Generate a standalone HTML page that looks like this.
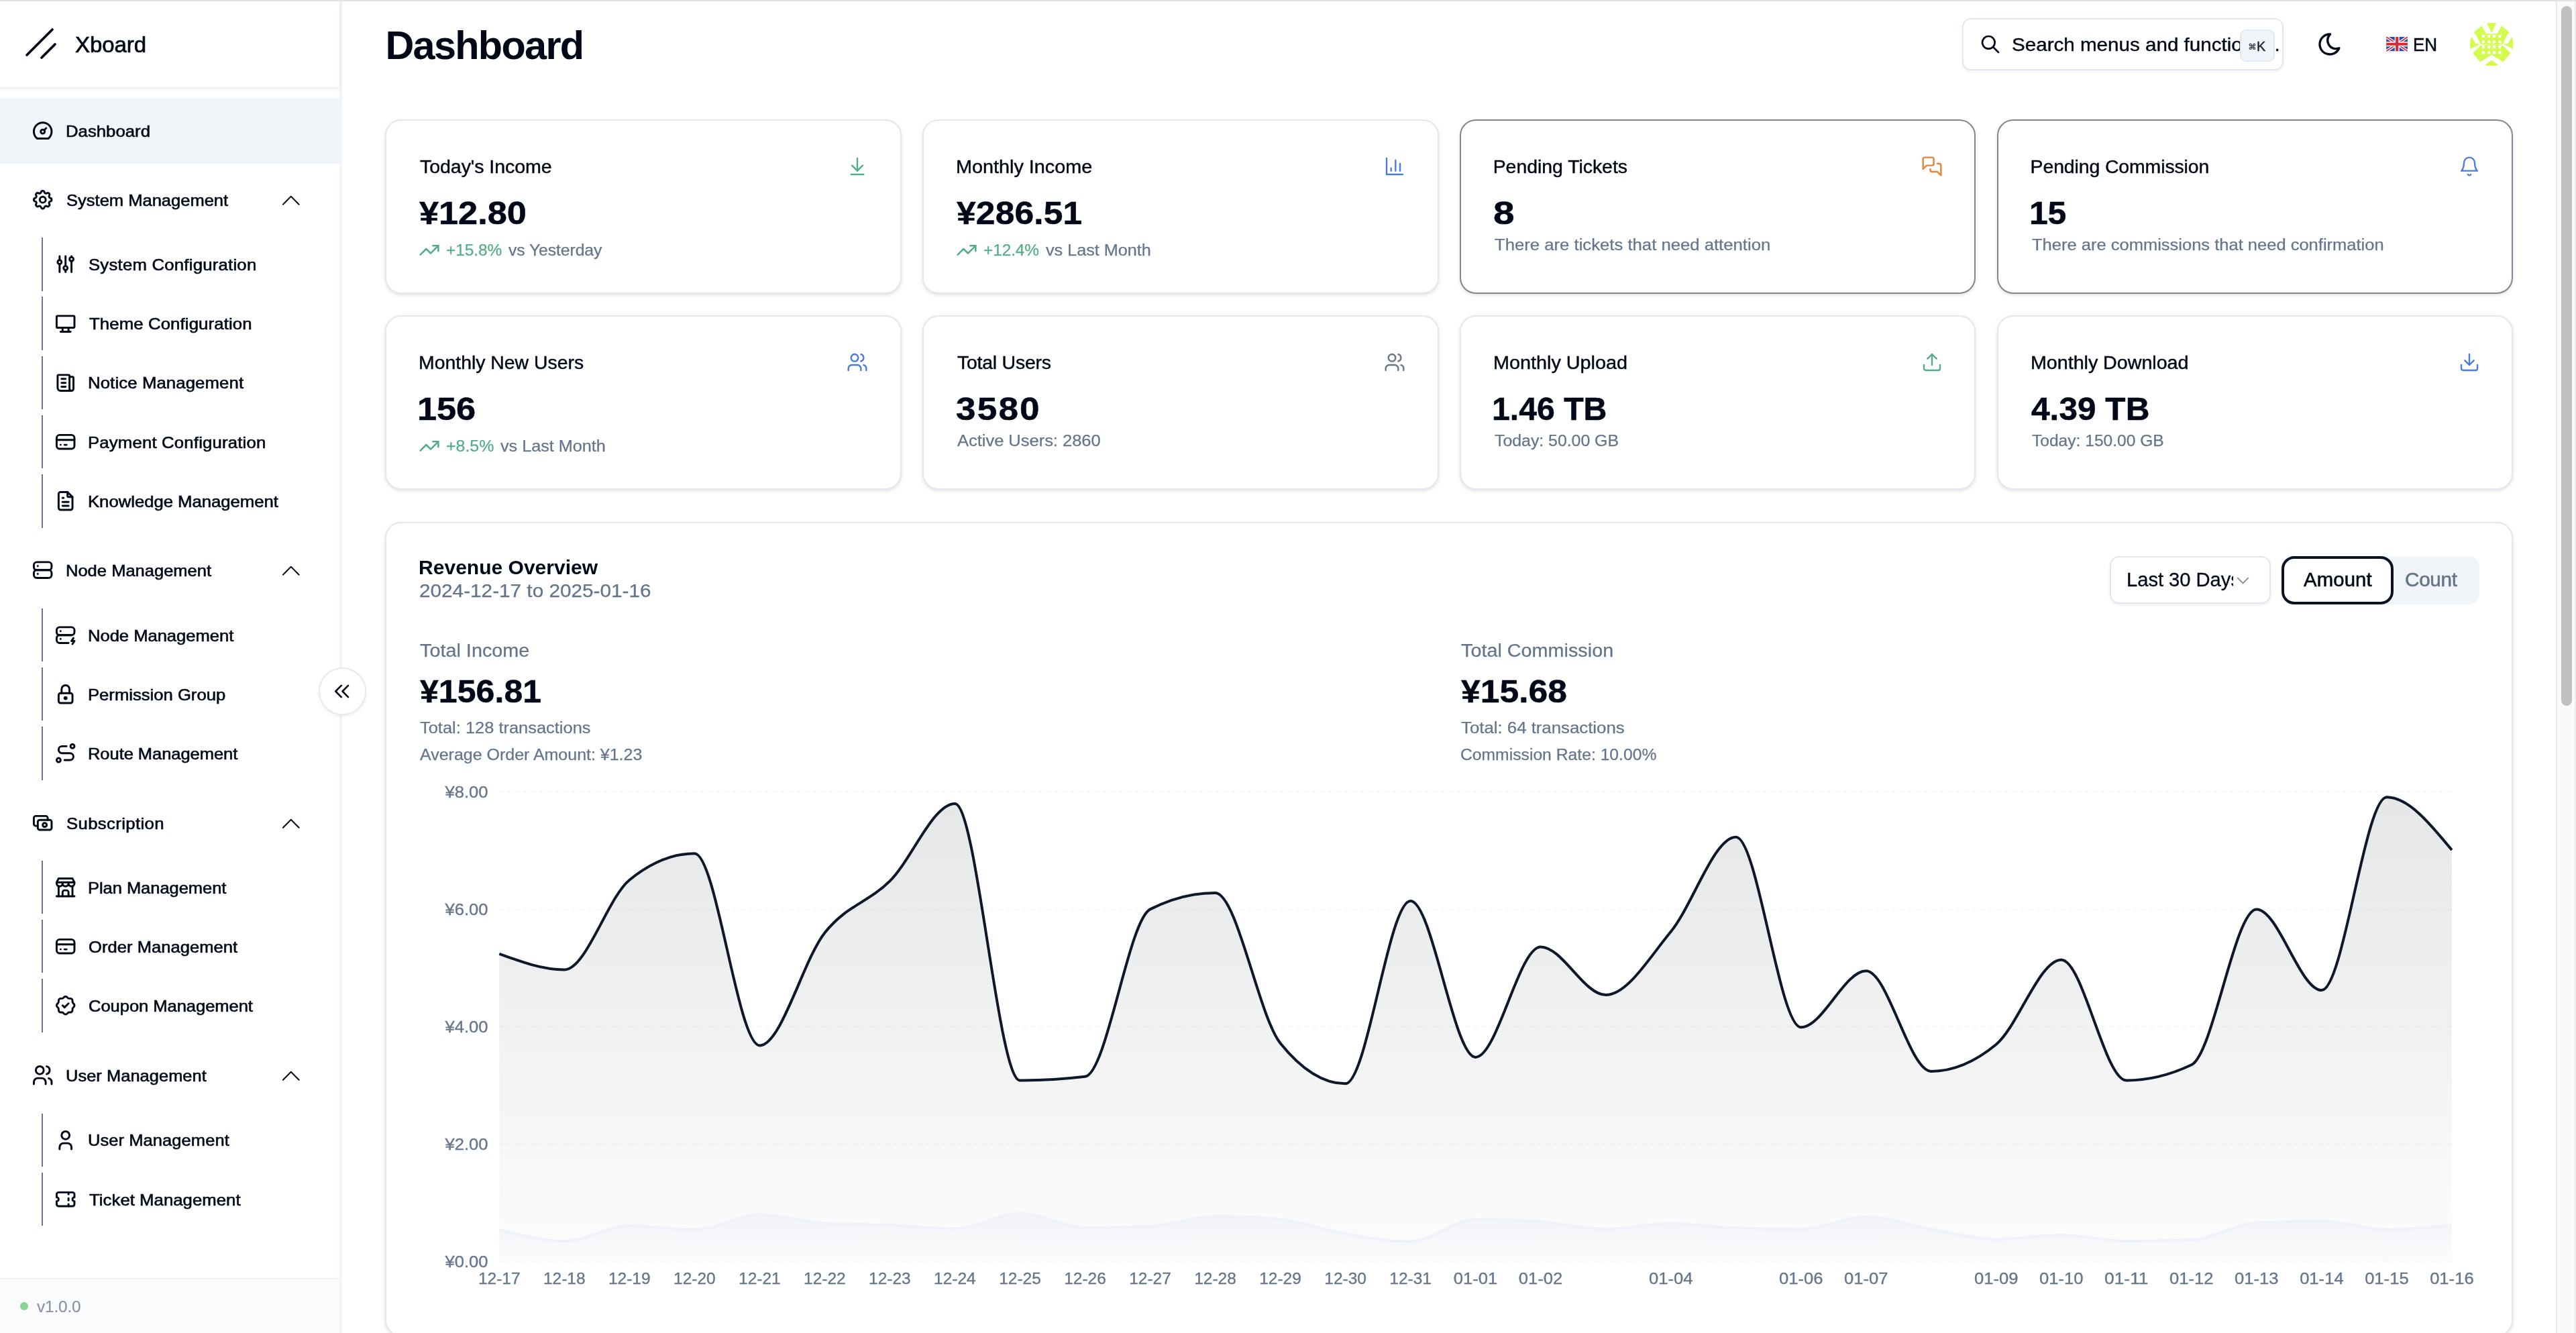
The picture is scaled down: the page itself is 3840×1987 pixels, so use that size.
<!DOCTYPE html><html lang="en"><head><meta charset="utf-8"><title>Xboard - Dashboard</title><style>*{box-sizing:border-box;margin:0;padding:0}
html,body{width:3840px;height:1987px;overflow:hidden;background:#fff}
body{will-change:transform;position:relative;font-family:"Liberation Sans",sans-serif;color:#020817;-webkit-font-smoothing:antialiased}
.t{position:absolute;white-space:nowrap;line-height:1;display:block}
.ic{display:block;overflow:visible}
a{color:inherit;text-decoration:none;display:block}
ul{list-style:none}
button{font:inherit;color:inherit;border:0;background:none}
.topline{position:absolute;left:0;top:0;width:3840px;height:2px;background:#e2e2e2;z-index:20}
/* sidebar */
.sidebar{position:absolute;left:0;top:0;width:510px;height:1987px;background:#fff;border-right:4px solid #f1f5f9}
.sb-head{position:absolute;left:0;top:0;width:506px;height:130px;background:#fff;box-shadow:0 2px 5px rgba(15,23,42,.09);z-index:2}
.sb-nav{position:absolute;left:0;top:0;width:506px;height:1905px}
.nav-item{position:absolute;left:0;width:506px;height:98px}
.nav-item.active{background:#f1f5f9}
.sub-item{position:absolute;left:62px;width:420px;height:79.5px;border-left:2.4px solid #6a7590}
.sb-foot{position:absolute;left:0;top:1905px;width:506px;height:82px;background:#fafbfd;border-top:2px solid #eff1f5}
.sb-foot .dot{position:absolute;left:29.8px;top:33.5px;width:12px;height:12px;border-radius:50%;background:#84d690}
.collapse{position:absolute;left:474.6px;top:994.6px;width:71px;height:71px;border-radius:50%;background:#fff;border:2px solid #e6eaf0;box-shadow:0 2px 5px rgba(15,23,42,.07);display:flex;align-items:center;justify-content:center;z-index:5}
/* main */
main{position:absolute;left:0;top:0;width:3811px;height:1987px}
.top{position:absolute;left:0;top:0;width:3811px;height:130px}
.search{position:absolute;left:2925px;top:26.6px;width:479px;height:78px;border:2px solid #e2e8f0;border-radius:13px;background:#fff;box-shadow:0 2px 4px rgba(15,23,42,.05);overflow:hidden}
.search kbd{position:absolute;left:411.6px;top:15.4px;width:52px;height:48px;border:2px solid #e2e8f0;border-radius:9px;background:#f1f5f9;font-family:"Liberation Sans","DejaVu Sans",sans-serif;font-size:20px;font-weight:400;-webkit-text-stroke:0.45px #1d2536;display:flex;align-items:center;justify-content:center;padding-top:3px;color:#1d2536}
.card{position:absolute;width:769.8px;height:260.2px;border:2px solid #e3e7ee;border-radius:24px;background:#fff;box-shadow:0 2px 6px rgba(15,23,42,.09),0 2px 4px -2px rgba(15,23,42,.09)}
.card.hl{border-color:#82868f}
.chartcard{width:3172.1px;height:1214px;overflow:hidden}
.select{position:absolute;width:240.4px;height:71px;border:2px solid #e3e6ec;border-radius:14px;background:#fff;box-shadow:0 2px 4px rgba(15,23,42,.07);overflow:hidden}
.select .tclip{position:absolute;left:0;top:0;width:182px;height:66px;overflow:hidden}
.tabs{position:absolute;width:294.6px;height:72px;border-radius:16px;background:#f1f5f9}
.tab{position:absolute;top:0;height:72px}
.tab.on{left:0;width:166.8px;border:4px solid #0b1222;border-radius:19px;background:#fff}
.tab:not(.on){left:166.8px;width:127px}
.ax text{font-family:"Liberation Sans",sans-serif}
/* scrollbar */
.vscroll{position:absolute;left:3810px;top:0;width:30px;height:1987px;background:#fafafa;border-left:2px solid #e8e8e8;border-right:2px solid #ededed}
.vscroll i{position:absolute;left:6px;top:8.5px;width:16px;height:1043.5px;border-radius:8px;background:#c1c1c1}
</style></head><body><aside class="sidebar"><div class="sb-head"><svg class="logo" width="64" height="64" viewBox="0 0 256 256" style="position:absolute;left:30px;top:34px"><line x1="208" y1="128" x2="128" y2="208" fill="none" stroke="#020817" stroke-linecap="round" stroke-linejoin="round" stroke-width="15"/><line x1="192" y1="40" x2="40" y2="192" fill="none" stroke="#020817" stroke-linecap="round" stroke-linejoin="round" stroke-width="15"/></svg><span class="t" style="left:112.0px;top:50.7px;font-size:32.5px;-webkit-text-stroke:0.7px #020817;letter-spacing:-0.07px;transform-origin:0 50%;transform:scaleX(1.0160);">Xboard</span></div><nav class="sb-nav"><a class="nav-item active" style="top:146.2px"><svg class="ic" width="35.4" height="35.4" viewBox="0 0 24 24" fill="none" stroke="currentColor" stroke-width="2" stroke-linecap="round" stroke-linejoin="round" style="position:absolute;left:46.3px;top:30.7px;"><path d="M12 13m-2 0a2 2 0 1 0 4 0a2 2 0 1 0 -4 0"/><path d="M13.45 11.55l2.05 -2.05"/><path d="M6.4 20a9 9 0 1 1 11.2 0z"/></svg><span class="t" style="left:98.1px;top:37.9px;font-size:24.0px;-webkit-text-stroke:0.6px #020817;letter-spacing:0.04px;transform-origin:0 50%;transform:scaleX(1.0700);">Dashboard</span></a><div class="nav-group"><a class="nav-item" style="top:249.0px"><svg class="ic" width="35.4" height="35.4" viewBox="0 0 24 24" fill="none" stroke="currentColor" stroke-width="2" stroke-linecap="round" stroke-linejoin="round" style="position:absolute;left:46.3px;top:30.7px;"><path d="M10.325 4.317c.426 -1.756 2.924 -1.756 3.35 0a1.724 1.724 0 0 0 2.573 1.066c1.543 -.94 3.31 .826 2.37 2.37a1.724 1.724 0 0 0 1.065 2.572c1.756 .426 1.756 2.924 0 3.35a1.724 1.724 0 0 0 -1.066 2.573c.94 1.543 -.826 3.31 -2.37 2.37a1.724 1.724 0 0 0 -2.572 1.065c-.426 1.756 -2.924 1.756 -3.35 0a1.724 1.724 0 0 0 -2.573 -1.066c-1.543 .94 -3.31 -.826 -2.37 -2.37a1.724 1.724 0 0 0 -1.065 -2.572c-1.756 -.426 -1.756 -2.924 0 -3.35a1.724 1.724 0 0 0 1.066 -2.573c-.94 -1.543 .826 -3.31 2.37 -2.37c1 .608 2.296 .07 2.572 -1.065z"/><path d="M9 12a3 3 0 1 0 6 0a3 3 0 0 0 -6 0"/></svg><span class="t" style="left:99.1px;top:37.9px;font-size:24.0px;-webkit-text-stroke:0.6px #020817;letter-spacing:0.01px;transform-origin:0 50%;transform:scaleX(1.0626);">System Management</span><svg class="ic" width="47.5" height="47.5" viewBox="0 0 24 24" fill="none" stroke="currentColor" stroke-width="1" stroke-linecap="round" stroke-linejoin="round" style="position:absolute;left:410.25px;top:25.55px;"><path d="M6 15l6 -6l6 6"/></svg></a><ul><li><a class="sub-item" style="top:354.2px"><svg class="ic" width="35.4" height="35.4" viewBox="0 0 24 24" fill="none" stroke="currentColor" stroke-width="2" stroke-linecap="round" stroke-linejoin="round" style="position:absolute;left:16.199999999999996px;top:22.200000000000003px;"><path d="M4 10a2 2 0 1 0 4 0a2 2 0 0 0 -4 0"/><path d="M6 4v4"/><path d="M6 12v8"/><path d="M10 16a2 2 0 1 0 4 0a2 2 0 0 0 -4 0"/><path d="M12 4v10"/><path d="M12 18v2"/><path d="M16 7a2 2 0 1 0 4 0a2 2 0 0 0 -4 0"/><path d="M18 4v1"/><path d="M18 9v11"/></svg><span class="t" style="left:68.1px;top:28.9px;font-size:24.0px;-webkit-text-stroke:0.6px #020817;letter-spacing:0.23px;transform-origin:0 50%;transform:scaleX(1.0700);">System Configuration</span></a></li><li><a class="sub-item" style="top:442.4px"><svg class="ic" width="35.4" height="35.4" viewBox="0 0 24 24" fill="none" stroke="currentColor" stroke-width="2" stroke-linecap="round" stroke-linejoin="round" style="position:absolute;left:16.199999999999996px;top:22.200000000000003px;"><path d="M3 5a1 1 0 0 1 1 -1h16a1 1 0 0 1 1 1v10a1 1 0 0 1 -1 1h-16a1 1 0 0 1 -1 -1v-10z"/><path d="M7 20h10"/><path d="M9 16v4"/><path d="M15 16v4"/></svg><span class="t" style="left:69.1px;top:28.9px;font-size:24.0px;-webkit-text-stroke:0.6px #020817;letter-spacing:0.14px;transform-origin:0 50%;transform:scaleX(1.0700);">Theme Configuration</span></a></li><li><a class="sub-item" style="top:530.6px"><svg class="ic" width="35.4" height="35.4" viewBox="0 0 24 24" fill="none" stroke="currentColor" stroke-width="2" stroke-linecap="round" stroke-linejoin="round" style="position:absolute;left:16.199999999999996px;top:22.200000000000003px;"><path d="M16 6h3a1 1 0 0 1 1 1v11a2 2 0 0 1 -4 0v-13a1 1 0 0 0 -1 -1h-10a1 1 0 0 0 -1 1v12a3 3 0 0 0 3 3h11"/><path d="M8 8l4 0"/><path d="M8 12l4 0"/><path d="M8 16l4 0"/></svg><span class="t" style="left:67.1px;top:28.9px;font-size:24.0px;-webkit-text-stroke:0.6px #020817;letter-spacing:0.13px;transform-origin:0 50%;transform:scaleX(1.0700);">Notice Management</span></a></li><li><a class="sub-item" style="top:618.8px"><svg class="ic" width="35.4" height="35.4" viewBox="0 0 24 24" fill="none" stroke="currentColor" stroke-width="2" stroke-linecap="round" stroke-linejoin="round" style="position:absolute;left:16.199999999999996px;top:22.200000000000003px;"><path d="M3 5m0 3a3 3 0 0 1 3 -3h12a3 3 0 0 1 3 3v8a3 3 0 0 1 -3 3h-12a3 3 0 0 1 -3 -3z"/><path d="M3 10l18 0"/><path d="M7 15l.01 0"/><path d="M11 15l2 0"/></svg><span class="t" style="left:67.1px;top:28.9px;font-size:24.0px;-webkit-text-stroke:0.6px #020817;letter-spacing:0.19px;transform-origin:0 50%;transform:scaleX(1.0700);">Payment Configuration</span></a></li><li><a class="sub-item" style="top:707.0px"><svg class="ic" width="35.4" height="35.4" viewBox="0 0 24 24" fill="none" stroke="currentColor" stroke-width="2" stroke-linecap="round" stroke-linejoin="round" style="position:absolute;left:16.199999999999996px;top:22.200000000000003px;"><path d="M14 3v4a1 1 0 0 0 1 1h4"/><path d="M17 21h-10a2 2 0 0 1 -2 -2v-14a2 2 0 0 1 2 -2h7l5 5v11a2 2 0 0 1 -2 2z"/><path d="M9 9l1 0"/><path d="M9 13l6 0"/><path d="M9 17l6 0"/></svg><span class="t" style="left:67.1px;top:28.9px;font-size:24.0px;-webkit-text-stroke:0.6px #020817;letter-spacing:-0.01px;transform-origin:0 50%;transform:scaleX(1.0700);">Knowledge Management</span></a></li></ul></div><div class="nav-group"><a class="nav-item" style="top:801.4px"><svg class="ic" width="35.4" height="35.4" viewBox="0 0 24 24" fill="none" stroke="currentColor" stroke-width="2" stroke-linecap="round" stroke-linejoin="round" style="position:absolute;left:46.3px;top:30.7px;"><path d="M3 4m0 3a3 3 0 0 1 3 -3h12a3 3 0 0 1 3 3v2a3 3 0 0 1 -3 3h-12a3 3 0 0 1 -3 -3z"/><path d="M3 12m0 3a3 3 0 0 1 3 -3h12a3 3 0 0 1 3 3v2a3 3 0 0 1 -3 3h-12a3 3 0 0 1 -3 -3z"/><path d="M7 8l0 .01"/><path d="M7 16l0 .01"/></svg><span class="t" style="left:98.1px;top:37.9px;font-size:24.0px;-webkit-text-stroke:0.6px #020817;letter-spacing:0.03px;transform-origin:0 50%;transform:scaleX(1.0613);">Node Management</span><svg class="ic" width="47.5" height="47.5" viewBox="0 0 24 24" fill="none" stroke="currentColor" stroke-width="1" stroke-linecap="round" stroke-linejoin="round" style="position:absolute;left:410.25px;top:25.55px;"><path d="M6 15l6 -6l6 6"/></svg></a><ul><li><a class="sub-item" style="top:906.7px"><svg class="ic" width="35.4" height="35.4" viewBox="0 0 24 24" fill="none" stroke="currentColor" stroke-width="2" stroke-linecap="round" stroke-linejoin="round" style="position:absolute;left:16.199999999999996px;top:22.200000000000003px;"><path d="M3 4m0 3a3 3 0 0 1 3 -3h12a3 3 0 0 1 3 3v2a3 3 0 0 1 -3 3h-12a3 3 0 0 1 -3 -3z"/><path d="M15 20h-9a3 3 0 0 1 -3 -3v-2a3 3 0 0 1 3 -3h12"/><path d="M7 8v.01"/><path d="M7 16v.01"/><path d="M20 15l-2 3h3l-2 3"/></svg><span class="t" style="left:67.1px;top:28.9px;font-size:24.0px;-webkit-text-stroke:0.6px #020817;transform-origin:0 50%;transform:scaleX(1.0643);">Node Management</span></a></li><li><a class="sub-item" style="top:994.9px"><svg class="ic" width="35.4" height="35.4" viewBox="0 0 24 24" fill="none" stroke="currentColor" stroke-width="2" stroke-linecap="round" stroke-linejoin="round" style="position:absolute;left:16.199999999999996px;top:22.200000000000003px;"><path d="M5 13a2 2 0 0 1 2 -2h10a2 2 0 0 1 2 2v6a2 2 0 0 1 -2 2h-10a2 2 0 0 1 -2 -2v-6z"/><path d="M11 16a1 1 0 1 0 2 0a1 1 0 0 0 -2 0"/><path d="M8 11v-4a4 4 0 1 1 8 0v4"/></svg><span class="t" style="left:67.1px;top:28.9px;font-size:24.0px;-webkit-text-stroke:0.6px #020817;transform-origin:0 50%;transform:scaleX(1.0682);">Permission Group</span></a></li><li><a class="sub-item" style="top:1083.1px"><svg class="ic" width="35.4" height="35.4" viewBox="0 0 24 24" fill="none" stroke="currentColor" stroke-width="2" stroke-linecap="round" stroke-linejoin="round" style="position:absolute;left:16.199999999999996px;top:22.200000000000003px;"><path d="M3 19a2 2 0 1 0 4 0a2 2 0 0 0 -4 0"/><path d="M19 7a2 2 0 1 0 0 -4a2 2 0 0 0 0 4z"/><path d="M11 19h5.5a3.5 3.5 0 0 0 0 -7h-8a3.5 3.5 0 0 1 0 -7h4.5"/></svg><span class="t" style="left:67.1px;top:28.9px;font-size:24.0px;-webkit-text-stroke:0.6px #020817;letter-spacing:-0.02px;transform-origin:0 50%;transform:scaleX(1.0605);">Route Management</span></a></li></ul></div><div class="nav-group"><a class="nav-item" style="top:1178.0px"><svg class="ic" width="35.4" height="35.4" viewBox="0 0 24 24" fill="none" stroke="currentColor" stroke-width="2" stroke-linecap="round" stroke-linejoin="round" style="position:absolute;left:46.3px;top:30.7px;"><path d="M7 9m0 2a2 2 0 0 1 2 -2h10a2 2 0 0 1 2 2v6a2 2 0 0 1 -2 2h-10a2 2 0 0 1 -2 -2z"/><path d="M14 14m-2 0a2 2 0 1 0 4 0a2 2 0 1 0 -4 0"/><path d="M17 9v-2a2 2 0 0 0 -2 -2h-10a2 2 0 0 0 -2 2v6a2 2 0 0 0 2 2h2"/></svg><span class="t" style="left:99.1px;top:37.9px;font-size:24.0px;-webkit-text-stroke:0.6px #020817;letter-spacing:0.36px;transform-origin:0 50%;transform:scaleX(1.0700);">Subscription</span><svg class="ic" width="47.5" height="47.5" viewBox="0 0 24 24" fill="none" stroke="currentColor" stroke-width="1" stroke-linecap="round" stroke-linejoin="round" style="position:absolute;left:410.25px;top:25.55px;"><path d="M6 15l6 -6l6 6"/></svg></a><ul><li><a class="sub-item" style="top:1282.7px"><svg class="ic" width="35.4" height="35.4" viewBox="0 0 24 24" fill="none" stroke="currentColor" stroke-width="2" stroke-linecap="round" stroke-linejoin="round" style="position:absolute;left:16.199999999999996px;top:22.200000000000003px;"><path d="M3 21l18 0"/><path d="M3 7v1a3 3 0 0 0 6 0v-1m0 1a3 3 0 0 0 6 0v-1m0 1a3 3 0 0 0 6 0v-1h-18l2 -4h14l2 4"/><path d="M5 21l0 -10.15"/><path d="M19 21l0 -10.15"/><path d="M9 21v-4a2 2 0 0 1 2 -2h2a2 2 0 0 1 2 2v4"/></svg><span class="t" style="left:67.1px;top:28.9px;font-size:24.0px;-webkit-text-stroke:0.6px #020817;letter-spacing:-0.02px;transform-origin:0 50%;transform:scaleX(1.0609);">Plan Management</span></a></li><li><a class="sub-item" style="top:1370.9px"><svg class="ic" width="35.4" height="35.4" viewBox="0 0 24 24" fill="none" stroke="currentColor" stroke-width="2" stroke-linecap="round" stroke-linejoin="round" style="position:absolute;left:16.199999999999996px;top:22.200000000000003px;"><path d="M3 5m0 3a3 3 0 0 1 3 -3h12a3 3 0 0 1 3 3v8a3 3 0 0 1 -3 3h-12a3 3 0 0 1 -3 -3z"/><path d="M3 10l18 0"/><path d="M7 15l.01 0"/><path d="M11 15l2 0"/></svg><span class="t" style="left:68.1px;top:28.9px;font-size:24.0px;-webkit-text-stroke:0.6px #020817;letter-spacing:0.06px;transform-origin:0 50%;transform:scaleX(1.0623);">Order Management</span></a></li><li><a class="sub-item" style="top:1459.1px"><svg class="ic" width="35.4" height="35.4" viewBox="0 0 24 24" fill="none" stroke="currentColor" stroke-width="2" stroke-linecap="round" stroke-linejoin="round" style="position:absolute;left:16.199999999999996px;top:22.200000000000003px;"><path d="M5 7.2a2.2 2.2 0 0 1 2.2 -2.2h1a2.2 2.2 0 0 0 1.55 -.64l.7 -.7a2.2 2.2 0 0 1 3.12 0l.7 .7c.412 .41 .97 .64 1.55 .64h1a2.2 2.2 0 0 1 2.2 2.2v1c0 .58 .23 1.138 .64 1.55l.7 .7a2.2 2.2 0 0 1 0 3.12l-.7 .7a2.2 2.2 0 0 0 -.64 1.55v1a2.2 2.2 0 0 1 -2.2 2.2h-1a2.2 2.2 0 0 0 -1.55 .64l-.7 .7a2.2 2.2 0 0 1 -3.12 0l-.7 -.7a2.2 2.2 0 0 0 -1.55 -.64h-1a2.2 2.2 0 0 1 -2.2 -2.2v-1a2.2 2.2 0 0 0 -.64 -1.55l-.7 -.7a2.2 2.2 0 0 1 0 -3.12l.7 -.7a2.2 2.2 0 0 0 .64 -1.55v-1"/><path d="M9 12l2 2l4 -4"/></svg><span class="t" style="left:68.1px;top:28.9px;font-size:24.0px;-webkit-text-stroke:0.6px #020817;letter-spacing:-0.03px;transform-origin:0 50%;transform:scaleX(1.0633);">Coupon Management</span></a></li></ul></div><div class="nav-group"><a class="nav-item" style="top:1554.2px"><svg class="ic" width="35.4" height="35.4" viewBox="0 0 24 24" fill="none" stroke="currentColor" stroke-width="2" stroke-linecap="round" stroke-linejoin="round" style="position:absolute;left:46.3px;top:30.7px;"><path d="M9 7m-4 0a4 4 0 1 0 8 0a4 4 0 1 0 -8 0"/><path d="M3 21v-2a4 4 0 0 1 4 -4h4a4 4 0 0 1 4 4v2"/><path d="M16 3.13a4 4 0 0 1 0 7.75"/><path d="M21 21v-2a4 4 0 0 0 -3 -3.85"/></svg><span class="t" style="left:98.1px;top:37.9px;font-size:24.0px;-webkit-text-stroke:0.6px #020817;letter-spacing:0.08px;transform-origin:0 50%;transform:scaleX(1.0566);">User Management</span><svg class="ic" width="47.5" height="47.5" viewBox="0 0 24 24" fill="none" stroke="currentColor" stroke-width="1" stroke-linecap="round" stroke-linejoin="round" style="position:absolute;left:410.25px;top:25.55px;"><path d="M6 15l6 -6l6 6"/></svg></a><ul><li><a class="sub-item" style="top:1659.5px"><svg class="ic" width="35.4" height="35.4" viewBox="0 0 24 24" fill="none" stroke="currentColor" stroke-width="2" stroke-linecap="round" stroke-linejoin="round" style="position:absolute;left:16.199999999999996px;top:22.200000000000003px;"><path d="M8 7a4 4 0 1 0 8 0a4 4 0 0 0 -8 0"/><path d="M6 21v-2a4 4 0 0 1 4 -4h4a4 4 0 0 1 4 4v2"/></svg><span class="t" style="left:67.1px;top:28.9px;font-size:24.0px;-webkit-text-stroke:0.6px #020817;letter-spacing:0.11px;transform-origin:0 50%;transform:scaleX(1.0591);">User Management</span></a></li><li><a class="sub-item" style="top:1747.7px"><svg class="ic" width="35.4" height="35.4" viewBox="0 0 24 24" fill="none" stroke="currentColor" stroke-width="2" stroke-linecap="round" stroke-linejoin="round" style="position:absolute;left:16.199999999999996px;top:22.200000000000003px;"><path d="M15 5l0 2"/><path d="M15 11l0 2"/><path d="M15 17l0 2"/><path d="M5 5h14a2 2 0 0 1 2 2v3a2 2 0 0 0 0 4v3a2 2 0 0 1 -2 2h-14a2 2 0 0 1 -2 -2v-3a2 2 0 0 0 0 -4v-3a2 2 0 0 1 2 -2"/></svg><span class="t" style="left:69.1px;top:28.9px;font-size:24.0px;-webkit-text-stroke:0.6px #020817;letter-spacing:0.06px;transform-origin:0 50%;transform:scaleX(1.0700);">Ticket Management</span></a></li></ul></div></nav><div class="sb-foot"><i class="dot"></i><span class="t" style="left:55.1px;top:28.7px;font-size:24.2px;color:#8a92a3;-webkit-text-stroke:0.2px #8a92a3;letter-spacing:-0.13px;transform-origin:0 50%;transform:scaleX(1.0054);">v1.0.0</span></div></aside><button class="collapse"><svg class="ic" width="41" height="41" viewBox="0 0 24 24" fill="none" stroke="currentColor" stroke-width="1.5" stroke-linecap="round" stroke-linejoin="round" style=""><path d="M11 7l-5 5l5 5"/><path d="M17 7l-5 5l5 5"/></svg></button><main><header class="top"><span class="t h1" style="left:574.4px;top:37.8px;font-size:59.4px;font-weight:700;letter-spacing:-1.69px;">Dashboard</span><div class="search"><svg class="ic" width="32" height="32" viewBox="0 0 24 24" fill="none" stroke="currentColor" stroke-width="2" stroke-linecap="round" stroke-linejoin="round" style="position:absolute;left:23.800000000000182px;top:21.0px;"><path d="M10 10m-7 0a7 7 0 1 0 14 0a7 7 0 1 0 -14 0"/><path d="M21 21l-6 -6"/></svg><span class="t" style="left:72.2px;top:23.1px;font-size:28.5px;-webkit-text-stroke:0.4px #020817;letter-spacing:-0.01px;transform-origin:0 50%;transform:scaleX(1.0389);">Search menus and functions...</span><kbd><span style="font-family:DejaVu Sans Mono,monospace;font-size:17.5px;position:relative;top:0.5px;margin-right:1.5px;-webkit-text-stroke:0.2px #1d2536">⌘</span>K</kbd></div><svg class="ic" width="40" height="40" viewBox="0 0 24 24" fill="none" stroke="currentColor" stroke-width="2" stroke-linecap="round" stroke-linejoin="round" style="position:absolute;left:3453px;top:45.8px;"><path d="M12 3c.132 0 .263 0 .393 0a7.5 7.5 0 0 0 7.92 12.446a9 9 0 1 1 -8.313 -12.454z"/></svg><svg class="flag" viewBox="0 0 60 40" width="32.4" height="21.4" style="position:absolute;left:3556.6px;top:55.4px"><clipPath id="fc"><rect width="60" height="40"/></clipPath><g clip-path="url(#fc)"><rect width="60" height="40" fill="#2c4da0"/><path d="M0 0L60 40M60 0L0 40" stroke="#fff" stroke-width="8"/><path d="M0 0L60 40M60 0L0 40" stroke="#d42a35" stroke-width="3.2"/><path d="M30 0V40M0 20H60" stroke="#fff" stroke-width="13"/><path d="M30 0V40M0 20H60" stroke="#d42a35" stroke-width="7.6"/></g></svg><span class="t" style="left:3597.2px;top:51.9px;font-size:28.5px;-webkit-text-stroke:0.5px #020817;letter-spacing:-0.05px;transform-origin:0 50%;transform:scaleX(0.9153);">EN</span><svg class="avatar" width="64.6" height="64.6" viewBox="0 0 64 64" style="position:absolute;left:3682px;top:33.6px"><clipPath id="av"><circle cx="32" cy="32" r="32"/></clipPath><g clip-path="url(#av)"><rect width="64" height="64" fill="#fff"/><g fill="#d3fb4e"><polygon points="24.4,0 39.4,0 32,14.8"/><polygon points="20,64 44,64 32,55"/><polygon points="0,21 2.6,21 8,30.6 14.6,31.4 1,38.6 0,39"/><polygon points="64,21 61.4,21 56,30.6 49.4,31.4 63,38.6 64,39"/><polygon points="5.2,14.7 17.2,4.5 23.7,16 32,16 32,32 16,32 8.2,16.4"/><polygon points="58.8,14.7 46.8,4.5 40.3,16 32,16 32,32 48,32 55.8,16.4"/><polygon points="4.2,44.8 15.6,33.4 32,32 32,47.6 16.4,56.6 15.8,58.8"/><polygon points="59.8,44.8 48.4,33.4 32,32 32,47.6 47.6,56.6 48.2,58.8"/></g><g fill="#fff"><polygon points="17.4,17.4 18.4,22.4 21.6,21.6 22.4,18.4"/><polygon points="30.6,17.4 29.6,22.4 26.4,21.6 25.6,18.4"/><polygon points="17.4,30.6 18.4,25.6 21.6,26.4 22.4,29.6"/><polygon points="30.6,30.6 29.6,25.6 26.4,26.4 25.6,29.6"/><polygon points="33.4,17.4 34.4,22.4 37.6,21.6 38.4,18.4"/><polygon points="46.6,17.4 45.6,22.4 42.4,21.6 41.6,18.4"/><polygon points="33.4,30.6 34.4,25.6 37.6,26.4 38.4,29.6"/><polygon points="46.6,30.6 45.6,25.6 42.4,26.4 41.6,29.6"/><polygon points="17.4,33.4 18.4,38.4 21.6,37.6 22.4,34.4"/><polygon points="30.6,33.4 29.6,38.4 26.4,37.6 25.6,34.4"/><polygon points="17.4,46.6 18.4,41.6 21.6,42.4 22.4,45.6"/><polygon points="30.6,46.6 29.6,41.6 26.4,42.4 25.6,45.6"/><polygon points="33.4,33.4 34.4,38.4 37.6,37.6 38.4,34.4"/><polygon points="46.6,33.4 45.6,38.4 42.4,37.6 41.6,34.4"/><polygon points="33.4,46.6 34.4,41.6 37.6,42.4 38.4,45.6"/><polygon points="46.6,46.6 45.6,41.6 42.4,42.4 41.6,45.6"/></g></g></svg></header><section class="card" style="left:573.9px;top:178.2px"><span class="t" style="left:50.1px;top:54.1px;font-size:28.4px;-webkit-text-stroke:0.45px #020817;letter-spacing:-0.07px;transform-origin:0 50%;transform:scaleX(1.0059);">Today's Income</span><svg class="ic" width="32" height="32" viewBox="0 0 24 24" fill="none" stroke="#52ae84" stroke-width="1.8" stroke-linecap="round" stroke-linejoin="round" style="position:absolute;left:686.2px;top:52.1px;"><path d="M12 17V3"/><path d="M6 11l6 6l6 -6"/><path d="M19 21H5"/></svg><span class="t" style="left:49.6px;top:114.1px;font-size:47.4px;font-weight:700;-webkit-text-stroke:0.5px #020817;letter-spacing:-0.03px;transform-origin:0 50%;transform:scaleX(1.1038);">¥12.80</span><svg class="ic" width="32" height="32" viewBox="0 0 24 24" fill="none" stroke="#52ae84" stroke-width="1.9" stroke-linecap="round" stroke-linejoin="round" style="position:absolute;left:48.3px;top:176.6px;"><path d="M22 7l-8.5 8.5l-5 -5l-6.5 6.5"/><path d="M16 7h6v6"/></svg><span class="t" style="left:89.1px;top:180.5px;font-size:24.2px;color:#52ae84;-webkit-text-stroke:0.25px #52ae84;letter-spacing:-0.05px;transform-origin:0 50%;transform:scaleX(1.0093);">+15.8%</span><span class="t" style="left:182.1px;top:180.5px;font-size:24.2px;color:#64748b;-webkit-text-stroke:0.25px #64748b;letter-spacing:-0.08px;transform-origin:0 50%;transform:scaleX(1.0230);">vs Yesterday</span></section><section class="card" style="left:1374.8px;top:178.2px"><span class="t" style="left:48.1px;top:54.1px;font-size:28.4px;-webkit-text-stroke:0.45px #020817;letter-spacing:-0.01px;transform-origin:0 50%;transform:scaleX(1.0145);">Monthly Income</span><svg class="ic" width="32" height="32" viewBox="0 0 24 24" fill="none" stroke="#4a7be0" stroke-width="1.8" stroke-linecap="round" stroke-linejoin="round" style="position:absolute;left:686.2px;top:52.1px;"><path d="M3 3v18h18"/><path d="M18 17V9"/><path d="M13 17V5"/><path d="M8 17v-3"/></svg><span class="t" style="left:49.6px;top:114.1px;font-size:47.4px;font-weight:700;-webkit-text-stroke:0.5px #020817;letter-spacing:0.15px;transform-origin:0 50%;transform:scaleX(1.0874);">¥286.51</span><svg class="ic" width="32" height="32" viewBox="0 0 24 24" fill="none" stroke="#52ae84" stroke-width="1.9" stroke-linecap="round" stroke-linejoin="round" style="position:absolute;left:48.3px;top:176.6px;"><path d="M22 7l-8.5 8.5l-5 -5l-6.5 6.5"/><path d="M16 7h6v6"/></svg><span class="t" style="left:89.1px;top:180.5px;font-size:24.2px;color:#52ae84;-webkit-text-stroke:0.25px #52ae84;letter-spacing:-0.07px;transform-origin:0 50%;transform:scaleX(1.0080);">+12.4%</span><span class="t" style="left:182.1px;top:180.5px;font-size:24.2px;color:#64748b;-webkit-text-stroke:0.25px #64748b;letter-spacing:-0.04px;transform-origin:0 50%;transform:scaleX(1.0440);">vs Last Month</span></section><section class="card hl" style="left:2175.6px;top:178.2px"><span class="t" style="left:48.1px;top:54.1px;font-size:28.4px;-webkit-text-stroke:0.45px #020817;letter-spacing:-0.01px;">Pending Tickets</span><svg class="ic" width="32" height="32" viewBox="0 0 24 24" fill="none" stroke="#e8833a" stroke-width="1.8" stroke-linecap="round" stroke-linejoin="round" style="position:absolute;left:686.2px;top:52.1px;"><path d="M14 9a2 2 0 0 1-2 2H6l-4 4V4c0-1.1.9-2 2-2h8a2 2 0 0 1 2 2z"/><path d="M18 9h2a2 2 0 0 1 2 2v11l-4-4h-6a2 2 0 0 1-2-2v-1"/></svg><span class="t" style="left:48.6px;top:114.1px;font-size:47.4px;font-weight:700;-webkit-text-stroke:0.5px #020817;transform-origin:0 50%;transform:scaleX(1.2000);">8</span><span class="t" style="left:50.1px;top:172.9px;font-size:24.2px;color:#64748b;-webkit-text-stroke:0.25px #64748b;letter-spacing:0.01px;transform-origin:0 50%;transform:scaleX(1.0610);">There are tickets that need attention</span></section><section class="card hl" style="left:2976.5px;top:178.2px"><span class="t" style="left:48.1px;top:54.1px;font-size:28.4px;-webkit-text-stroke:0.45px #020817;letter-spacing:-0.09px;">Pending Commission</span><svg class="ic" width="32" height="32" viewBox="0 0 24 24" fill="none" stroke="#4a7be0" stroke-width="1.8" stroke-linecap="round" stroke-linejoin="round" style="position:absolute;left:686.2px;top:52.1px;"><path d="M6 8a6 6 0 0 1 12 0c0 7 3 9 3 9H3s3-2 3-9"/><path d="M10.3 21a1.94 1.94 0 0 0 3.4 0"/></svg><span class="t" style="left:46.6px;top:114.1px;font-size:47.4px;font-weight:700;-webkit-text-stroke:0.5px #020817;letter-spacing:-0.33px;transform-origin:0 50%;transform:scaleX(1.0541);">15</span><span class="t" style="left:50.1px;top:172.9px;font-size:24.2px;color:#64748b;-webkit-text-stroke:0.25px #64748b;transform-origin:0 50%;transform:scaleX(1.0547);">There are commissions that need confirmation</span></section><section class="card" style="left:573.9px;top:470.2px"><span class="t" style="left:48.1px;top:54.1px;font-size:28.4px;-webkit-text-stroke:0.45px #020817;transform-origin:0 50%;transform:scaleX(1.0002);">Monthly New Users</span><svg class="ic" width="32" height="32" viewBox="0 0 24 24" fill="none" stroke="#4a7be0" stroke-width="1.8" stroke-linecap="round" stroke-linejoin="round" style="position:absolute;left:686.2px;top:52.1px;"><path d="M16 21v-2a4 4 0 0 0-4-4H6a4 4 0 0 0-4 4v2"/><path d="M9 7m-4 0a4 4 0 1 0 8 0a4 4 0 1 0 -8 0"/><path d="M22 21v-2a4 4 0 0 0-3-3.87"/><path d="M16 3.13a4 4 0 0 1 0 7.75"/></svg><span class="t" style="left:46.6px;top:114.1px;font-size:47.4px;font-weight:700;-webkit-text-stroke:0.5px #020817;letter-spacing:-0.11px;transform-origin:0 50%;transform:scaleX(1.1033);">156</span><svg class="ic" width="32" height="32" viewBox="0 0 24 24" fill="none" stroke="#52ae84" stroke-width="1.9" stroke-linecap="round" stroke-linejoin="round" style="position:absolute;left:48.3px;top:176.6px;"><path d="M22 7l-8.5 8.5l-5 -5l-6.5 6.5"/><path d="M16 7h6v6"/></svg><span class="t" style="left:89.1px;top:180.5px;font-size:24.2px;color:#52ae84;-webkit-text-stroke:0.25px #52ae84;letter-spacing:0.01px;transform-origin:0 50%;transform:scaleX(1.0301);">+8.5%</span><span class="t" style="left:170.4px;top:180.5px;font-size:24.2px;color:#64748b;-webkit-text-stroke:0.25px #64748b;letter-spacing:-0.04px;transform-origin:0 50%;transform:scaleX(1.0440);">vs Last Month</span></section><section class="card" style="left:1374.8px;top:470.2px"><span class="t" style="left:50.1px;top:54.1px;font-size:28.4px;-webkit-text-stroke:0.45px #020817;letter-spacing:-0.19px;">Total Users</span><svg class="ic" width="32" height="32" viewBox="0 0 24 24" fill="none" stroke="#6b7689" stroke-width="1.8" stroke-linecap="round" stroke-linejoin="round" style="position:absolute;left:686.2px;top:52.1px;"><path d="M16 21v-2a4 4 0 0 0-4-4H6a4 4 0 0 0-4 4v2"/><path d="M9 7m-4 0a4 4 0 1 0 8 0a4 4 0 1 0 -8 0"/><path d="M22 21v-2a4 4 0 0 0-3-3.87"/><path d="M16 3.13a4 4 0 0 1 0 7.75"/></svg><span class="t" style="left:48.6px;top:114.1px;font-size:47.4px;font-weight:700;-webkit-text-stroke:0.5px #020817;letter-spacing:1.95px;transform-origin:0 50%;transform:scaleX(1.1200);">3580</span><span class="t" style="left:50.1px;top:172.9px;font-size:24.2px;color:#64748b;-webkit-text-stroke:0.25px #64748b;letter-spacing:-0.04px;transform-origin:0 50%;transform:scaleX(1.0562);">Active Users: 2860</span></section><section class="card" style="left:2175.6px;top:470.2px"><span class="t" style="left:48.1px;top:54.1px;font-size:28.4px;-webkit-text-stroke:0.45px #020817;letter-spacing:-0.01px;transform-origin:0 50%;transform:scaleX(1.0147);">Monthly Upload</span><svg class="ic" width="32" height="32" viewBox="0 0 24 24" fill="none" stroke="#52ae84" stroke-width="1.8" stroke-linecap="round" stroke-linejoin="round" style="position:absolute;left:686.2px;top:52.1px;"><path d="M21 15v4a2 2 0 0 1-2 2H5a2 2 0 0 1-2-2v-4"/><path d="M17 8l-5 -5l-5 5"/><path d="M12 3v12"/></svg><span class="t" style="left:46.6px;top:114.1px;font-size:47.4px;font-weight:700;-webkit-text-stroke:0.5px #020817;letter-spacing:-0.02px;transform-origin:0 50%;transform:scaleX(1.0174);">1.46 TB</span><span class="t" style="left:50.1px;top:172.9px;font-size:24.2px;color:#64748b;-webkit-text-stroke:0.25px #64748b;letter-spacing:-0.04px;transform-origin:0 50%;transform:scaleX(1.0304);">Today: 50.00 GB</span></section><section class="card" style="left:2976.5px;top:470.2px"><span class="t" style="left:48.1px;top:54.1px;font-size:28.4px;-webkit-text-stroke:0.45px #020817;letter-spacing:-0.04px;transform-origin:0 50%;transform:scaleX(1.0107);">Monthly Download</span><svg class="ic" width="32" height="32" viewBox="0 0 24 24" fill="none" stroke="#4a7be0" stroke-width="1.8" stroke-linecap="round" stroke-linejoin="round" style="position:absolute;left:686.2px;top:52.1px;"><path d="M21 15v4a2 2 0 0 1-2 2H5a2 2 0 0 1-2-2v-4"/><path d="M7 10l5 5l5 -5"/><path d="M12 15V3"/></svg><span class="t" style="left:49.6px;top:114.1px;font-size:47.4px;font-weight:700;-webkit-text-stroke:0.5px #020817;letter-spacing:0.06px;transform-origin:0 50%;transform:scaleX(1.0440);">4.39 TB</span><span class="t" style="left:50.1px;top:172.9px;font-size:24.2px;color:#64748b;-webkit-text-stroke:0.25px #64748b;transform-origin:0 50%;transform:scaleX(1.0158);">Today: 150.00 GB</span></section><section class="card chartcard" style="left:573.9px;top:778.1px"><span class="t h3" style="left:48.2px;top:50.6px;font-size:30.0px;font-weight:700;letter-spacing:0.01px;">Revenue Overview</span><span class="t" style="left:49.2px;top:86.9px;font-size:27.8px;color:#64748b;-webkit-text-stroke:0.25px #64748b;letter-spacing:0.01px;transform-origin:0 50%;transform:scaleX(1.0690);">2024-12-17 to 2025-01-16</span><div class="select" style="left:2569.1px;top:48.9px"><span class="tclip"><span class="t" style="left:23.0px;top:18.9px;font-size:28.9px;-webkit-text-stroke:0.3px #020817;letter-spacing:-0.03px;transform-origin:0 50%;transform:scaleX(1.0099);">Last 30 Days</span></span><svg class="ic" width="31" height="31" viewBox="0 0 24 24" fill="none" stroke="#8a909c" stroke-width="1.6" stroke-linecap="round" stroke-linejoin="round" style="position:absolute;left:181.30000000000018px;top:19.0px;"><path d="M6 9l6 6l6 -6"/></svg></div><div class="tabs" style="left:2825.5px;top:48.5px"><button class="tab on"><span class="t" style="left:28.8px;top:17.4px;font-size:28.6px;-webkit-text-stroke:0.55px #020817;letter-spacing:0.11px;transform-origin:0 50%;transform:scaleX(1.0258);">Amount</span></button><button class="tab"><span class="t" style="left:17.0px;top:21.4px;font-size:28.6px;color:#64748b;-webkit-text-stroke:0.55px #64748b;letter-spacing:-0.28px;transform-origin:0 50%;transform:scaleX(1.0380);">Count</span></button></div><div class="stat"><span class="t" style="left:50.2px;top:174.6px;font-size:28.2px;color:#64748b;-webkit-text-stroke:0.25px #64748b;letter-spacing:0.02px;transform-origin:0 50%;transform:scaleX(1.0204);">Total Income</span><span class="t" style="left:50.2px;top:226.6px;font-size:47.4px;font-weight:700;-webkit-text-stroke:0.5px #020817;letter-spacing:0.06px;transform-origin:0 50%;transform:scaleX(1.0547);">¥156.81</span><span class="t" style="left:50.2px;top:292.9px;font-size:24.2px;color:#64748b;-webkit-text-stroke:0.25px #64748b;letter-spacing:0.03px;transform-origin:0 50%;transform:scaleX(1.0486);">Total: 128 transactions</span><span class="t" style="left:50.2px;top:333.1px;font-size:24.2px;color:#64748b;-webkit-text-stroke:0.25px #64748b;letter-spacing:-0.01px;transform-origin:0 50%;transform:scaleX(1.0333);">Average Order Amount: ¥1.23</span></div><div class="stat"><span class="t" style="left:1602.0px;top:174.6px;font-size:28.2px;color:#64748b;-webkit-text-stroke:0.25px #64748b;letter-spacing:0.02px;transform-origin:0 50%;transform:scaleX(1.0197);">Total Commission</span><span class="t" style="left:1602.0px;top:226.6px;font-size:47.4px;font-weight:700;-webkit-text-stroke:0.5px #020817;letter-spacing:0.08px;transform-origin:0 50%;transform:scaleX(1.0865);">¥15.68</span><span class="t" style="left:1602.0px;top:292.9px;font-size:24.2px;color:#64748b;-webkit-text-stroke:0.25px #64748b;letter-spacing:-0.02px;transform-origin:0 50%;transform:scaleX(1.0682);">Total: 64 transactions</span><span class="t" style="left:1601.0px;top:333.1px;font-size:24.2px;color:#64748b;-webkit-text-stroke:0.25px #64748b;letter-spacing:0.02px;transform-origin:0 50%;transform:scaleX(1.0195);">Commission Rate: 10.00%</span></div><svg class="plot" width="3168.1" height="1209.9" viewBox="575.9 780.1 3168.1 1209.9" style="position:absolute;left:0;top:0"><defs><linearGradient id="gi" x1="0" y1="0" x2="0" y2="1"><stop offset="0" stop-color="#0f172a" stop-opacity="0.105"/><stop offset="1" stop-color="#0f172a" stop-opacity="0.012"/></linearGradient><linearGradient id="gc" x1="0" y1="0" x2="0" y2="1"><stop offset="0" stop-color="#e9edf6" stop-opacity="0.5"/><stop offset="1" stop-color="#e9edf6" stop-opacity="0.05"/></linearGradient></defs><line x1="744.2" x2="3654.8" y1="1880.5" y2="1880.5" stroke="#f4f5f7" stroke-width="1.6" stroke-dasharray="6 6"/><line x1="744.2" x2="3654.8" y1="1705.5" y2="1705.5" stroke="#f4f5f7" stroke-width="1.6" stroke-dasharray="6 6"/><line x1="744.2" x2="3654.8" y1="1530.5" y2="1530.5" stroke="#f4f5f7" stroke-width="1.6" stroke-dasharray="6 6"/><line x1="744.2" x2="3654.8" y1="1355.5" y2="1355.5" stroke="#f4f5f7" stroke-width="1.6" stroke-dasharray="6 6"/><line x1="744.2" x2="3654.8" y1="1180.5" y2="1180.5" stroke="#f4f5f7" stroke-width="1.6" stroke-dasharray="6 6"/><path d="M744.2,1422.0C776.5,1433.8,808.9,1445.6,841.2,1445.6C873.6,1445.6,905.9,1338.0,938.2,1311.8C970.6,1285.5,1002.9,1272.4,1035.3,1272.4C1067.6,1272.4,1099.9,1558.5,1132.3,1558.5C1164.6,1558.5,1197.0,1431.3,1229.3,1390.5C1261.6,1349.7,1294.0,1345.6,1326.3,1313.5C1358.7,1281.4,1391.0,1198.0,1423.3,1198.0C1455.7,1198.0,1488.0,1610.6,1520.4,1610.6C1552.7,1610.6,1585.0,1608.7,1617.4,1604.9C1649.7,1601.1,1682.1,1371.8,1714.4,1355.5C1746.7,1339.2,1779.1,1331.0,1811.4,1331.0C1843.8,1331.0,1876.1,1514.8,1908.4,1555.0C1940.8,1595.2,1973.1,1615.4,2005.5,1615.4C2037.8,1615.4,2070.1,1343.2,2102.5,1343.2C2134.8,1343.2,2167.2,1576.0,2199.5,1576.0C2231.8,1576.0,2264.2,1411.5,2296.5,1411.5C2328.9,1411.5,2361.2,1483.2,2393.5,1483.2C2425.9,1483.2,2458.2,1428.0,2490.6,1388.8C2522.9,1349.5,2555.2,1247.9,2587.6,1247.9C2619.9,1247.9,2652.3,1531.4,2684.6,1531.4C2716.9,1531.4,2749.3,1447.4,2781.6,1447.4C2814.0,1447.4,2846.3,1597.0,2878.6,1597.0C2911.0,1597.0,2943.3,1583.6,2975.7,1556.8C3008.0,1529.9,3040.3,1430.8,3072.7,1430.8C3105.0,1430.8,3137.4,1610.6,3169.7,1610.6C3202.0,1610.6,3234.4,1602.8,3266.7,1587.4C3299.1,1571.9,3331.4,1355.5,3363.7,1355.5C3396.1,1355.5,3428.4,1476.2,3460.8,1476.2C3493.1,1476.2,3525.4,1188.4,3557.8,1188.4C3590.1,1188.4,3622.5,1227.8,3654.8,1267.1L3654.8,1880.5L744.2,1880.5Z" fill="url(#gi)"/><path d="M744.2,1422.0C776.5,1433.8,808.9,1445.6,841.2,1445.6C873.6,1445.6,905.9,1338.0,938.2,1311.8C970.6,1285.5,1002.9,1272.4,1035.3,1272.4C1067.6,1272.4,1099.9,1558.5,1132.3,1558.5C1164.6,1558.5,1197.0,1431.3,1229.3,1390.5C1261.6,1349.7,1294.0,1345.6,1326.3,1313.5C1358.7,1281.4,1391.0,1198.0,1423.3,1198.0C1455.7,1198.0,1488.0,1610.6,1520.4,1610.6C1552.7,1610.6,1585.0,1608.7,1617.4,1604.9C1649.7,1601.1,1682.1,1371.8,1714.4,1355.5C1746.7,1339.2,1779.1,1331.0,1811.4,1331.0C1843.8,1331.0,1876.1,1514.8,1908.4,1555.0C1940.8,1595.2,1973.1,1615.4,2005.5,1615.4C2037.8,1615.4,2070.1,1343.2,2102.5,1343.2C2134.8,1343.2,2167.2,1576.0,2199.5,1576.0C2231.8,1576.0,2264.2,1411.5,2296.5,1411.5C2328.9,1411.5,2361.2,1483.2,2393.5,1483.2C2425.9,1483.2,2458.2,1428.0,2490.6,1388.8C2522.9,1349.5,2555.2,1247.9,2587.6,1247.9C2619.9,1247.9,2652.3,1531.4,2684.6,1531.4C2716.9,1531.4,2749.3,1447.4,2781.6,1447.4C2814.0,1447.4,2846.3,1597.0,2878.6,1597.0C2911.0,1597.0,2943.3,1583.6,2975.7,1556.8C3008.0,1529.9,3040.3,1430.8,3072.7,1430.8C3105.0,1430.8,3137.4,1610.6,3169.7,1610.6C3202.0,1610.6,3234.4,1602.8,3266.7,1587.4C3299.1,1571.9,3331.4,1355.5,3363.7,1355.5C3396.1,1355.5,3428.4,1476.2,3460.8,1476.2C3493.1,1476.2,3525.4,1188.4,3557.8,1188.4C3590.1,1188.4,3622.5,1227.8,3654.8,1267.1" fill="none" stroke="#0f172a" stroke-width="4" stroke-linejoin="round"/><path d="M744.2,1833.2C776.5,1841.6,808.9,1849.9,841.2,1849.9C873.6,1849.9,905.9,1827.1,938.2,1827.1C970.6,1827.1,1002.9,1833.2,1035.3,1833.2C1067.6,1833.2,1099.9,1810.5,1132.3,1810.5C1164.6,1810.5,1197.0,1821.9,1229.3,1823.6C1261.6,1825.4,1294.0,1824.9,1326.3,1826.2C1358.7,1827.6,1391.0,1831.5,1423.3,1831.5C1455.7,1831.5,1488.0,1808.8,1520.4,1808.8C1552.7,1808.8,1585.0,1829.8,1617.4,1829.8C1649.7,1829.8,1682.1,1829.2,1714.4,1828.0C1746.7,1826.8,1779.1,1813.1,1811.4,1813.1C1843.8,1813.1,1876.1,1814.6,1908.4,1817.5C1940.8,1820.4,1973.1,1833.8,2005.5,1839.4C2037.8,1844.9,2070.1,1850.8,2102.5,1850.8C2134.8,1850.8,2167.2,1817.5,2199.5,1817.5C2231.8,1817.5,2264.2,1818.7,2296.5,1821.0C2328.9,1823.3,2361.2,1832.4,2393.5,1832.4C2425.9,1832.4,2458.2,1823.6,2490.6,1823.6C2522.9,1823.6,2555.2,1829.5,2587.6,1830.6C2619.9,1831.8,2652.3,1832.4,2684.6,1832.4C2716.9,1832.4,2749.3,1814.0,2781.6,1814.0C2814.0,1814.0,2846.3,1826.8,2878.6,1832.4C2911.0,1837.9,2943.3,1847.2,2975.7,1847.2C3008.0,1847.2,3040.3,1841.1,3072.7,1841.1C3105.0,1841.1,3137.4,1849.9,3169.7,1849.9C3202.0,1849.9,3234.4,1849.3,3266.7,1848.1C3299.1,1847.0,3331.4,1824.5,3363.7,1822.8C3396.1,1821.0,3428.4,1820.1,3460.8,1820.1C3493.1,1820.1,3525.4,1833.2,3557.8,1833.2C3590.1,1833.2,3622.5,1829.8,3654.8,1826.2L3654.8,1880.5L744.2,1880.5Z" fill="url(#gc)"/><path d="M744.2,1833.2C776.5,1841.6,808.9,1849.9,841.2,1849.9C873.6,1849.9,905.9,1827.1,938.2,1827.1C970.6,1827.1,1002.9,1833.2,1035.3,1833.2C1067.6,1833.2,1099.9,1810.5,1132.3,1810.5C1164.6,1810.5,1197.0,1821.9,1229.3,1823.6C1261.6,1825.4,1294.0,1824.9,1326.3,1826.2C1358.7,1827.6,1391.0,1831.5,1423.3,1831.5C1455.7,1831.5,1488.0,1808.8,1520.4,1808.8C1552.7,1808.8,1585.0,1829.8,1617.4,1829.8C1649.7,1829.8,1682.1,1829.2,1714.4,1828.0C1746.7,1826.8,1779.1,1813.1,1811.4,1813.1C1843.8,1813.1,1876.1,1814.6,1908.4,1817.5C1940.8,1820.4,1973.1,1833.8,2005.5,1839.4C2037.8,1844.9,2070.1,1850.8,2102.5,1850.8C2134.8,1850.8,2167.2,1817.5,2199.5,1817.5C2231.8,1817.5,2264.2,1818.7,2296.5,1821.0C2328.9,1823.3,2361.2,1832.4,2393.5,1832.4C2425.9,1832.4,2458.2,1823.6,2490.6,1823.6C2522.9,1823.6,2555.2,1829.5,2587.6,1830.6C2619.9,1831.8,2652.3,1832.4,2684.6,1832.4C2716.9,1832.4,2749.3,1814.0,2781.6,1814.0C2814.0,1814.0,2846.3,1826.8,2878.6,1832.4C2911.0,1837.9,2943.3,1847.2,2975.7,1847.2C3008.0,1847.2,3040.3,1841.1,3072.7,1841.1C3105.0,1841.1,3137.4,1849.9,3169.7,1849.9C3202.0,1849.9,3234.4,1849.3,3266.7,1848.1C3299.1,1847.0,3331.4,1824.5,3363.7,1822.8C3396.1,1821.0,3428.4,1820.1,3460.8,1820.1C3493.1,1820.1,3525.4,1833.2,3557.8,1833.2C3590.1,1833.2,3622.5,1829.8,3654.8,1826.2" fill="none" stroke="#eff2f9" stroke-width="4"/><g class="ax" fill="#677589" stroke="#677589" stroke-width="0.35" font-size="23.6"><text x="727.4" y="1889.5" text-anchor="end" textLength="64" lengthAdjust="spacingAndGlyphs">¥0.00</text><text x="727.4" y="1714.5" text-anchor="end" textLength="64" lengthAdjust="spacingAndGlyphs">¥2.00</text><text x="727.4" y="1539.5" text-anchor="end" textLength="64" lengthAdjust="spacingAndGlyphs">¥4.00</text><text x="727.4" y="1364.5" text-anchor="end" textLength="64" lengthAdjust="spacingAndGlyphs">¥6.00</text><text x="727.4" y="1189.5" text-anchor="end" textLength="64" lengthAdjust="spacingAndGlyphs">¥8.00</text><text x="744.2" y="1913.8" text-anchor="middle" textLength="62.6" lengthAdjust="spacingAndGlyphs">12-17</text><text x="841.2" y="1913.8" text-anchor="middle" textLength="62.6" lengthAdjust="spacingAndGlyphs">12-18</text><text x="938.2" y="1913.8" text-anchor="middle" textLength="62.6" lengthAdjust="spacingAndGlyphs">12-19</text><text x="1035.3" y="1913.8" text-anchor="middle" textLength="62.6" lengthAdjust="spacingAndGlyphs">12-20</text><text x="1132.3" y="1913.8" text-anchor="middle" textLength="62.6" lengthAdjust="spacingAndGlyphs">12-21</text><text x="1229.3" y="1913.8" text-anchor="middle" textLength="62.6" lengthAdjust="spacingAndGlyphs">12-22</text><text x="1326.3" y="1913.8" text-anchor="middle" textLength="62.6" lengthAdjust="spacingAndGlyphs">12-23</text><text x="1423.3" y="1913.8" text-anchor="middle" textLength="62.6" lengthAdjust="spacingAndGlyphs">12-24</text><text x="1520.4" y="1913.8" text-anchor="middle" textLength="62.6" lengthAdjust="spacingAndGlyphs">12-25</text><text x="1617.4" y="1913.8" text-anchor="middle" textLength="62.6" lengthAdjust="spacingAndGlyphs">12-26</text><text x="1714.4" y="1913.8" text-anchor="middle" textLength="62.6" lengthAdjust="spacingAndGlyphs">12-27</text><text x="1811.4" y="1913.8" text-anchor="middle" textLength="62.6" lengthAdjust="spacingAndGlyphs">12-28</text><text x="1908.4" y="1913.8" text-anchor="middle" textLength="62.6" lengthAdjust="spacingAndGlyphs">12-29</text><text x="2005.5" y="1913.8" text-anchor="middle" textLength="62.6" lengthAdjust="spacingAndGlyphs">12-30</text><text x="2102.5" y="1913.8" text-anchor="middle" textLength="62.6" lengthAdjust="spacingAndGlyphs">12-31</text><text x="2199.5" y="1913.8" text-anchor="middle" textLength="65.5" lengthAdjust="spacingAndGlyphs">01-01</text><text x="2296.5" y="1913.8" text-anchor="middle" textLength="65.5" lengthAdjust="spacingAndGlyphs">01-02</text><text x="2490.6" y="1913.8" text-anchor="middle" textLength="65.5" lengthAdjust="spacingAndGlyphs">01-04</text><text x="2684.6" y="1913.8" text-anchor="middle" textLength="65.5" lengthAdjust="spacingAndGlyphs">01-06</text><text x="2781.6" y="1913.8" text-anchor="middle" textLength="65.5" lengthAdjust="spacingAndGlyphs">01-07</text><text x="2975.7" y="1913.8" text-anchor="middle" textLength="65.5" lengthAdjust="spacingAndGlyphs">01-09</text><text x="3072.7" y="1913.8" text-anchor="middle" textLength="65.5" lengthAdjust="spacingAndGlyphs">01-10</text><text x="3169.7" y="1913.8" text-anchor="middle" textLength="65.5" lengthAdjust="spacingAndGlyphs">01-11</text><text x="3266.7" y="1913.8" text-anchor="middle" textLength="65.5" lengthAdjust="spacingAndGlyphs">01-12</text><text x="3363.7" y="1913.8" text-anchor="middle" textLength="65.5" lengthAdjust="spacingAndGlyphs">01-13</text><text x="3460.8" y="1913.8" text-anchor="middle" textLength="65.5" lengthAdjust="spacingAndGlyphs">01-14</text><text x="3557.8" y="1913.8" text-anchor="middle" textLength="65.5" lengthAdjust="spacingAndGlyphs">01-15</text><text x="3654.8" y="1913.8" text-anchor="middle" textLength="65.5" lengthAdjust="spacingAndGlyphs">01-16</text></g></svg></section></main><div class="vscroll"><i></i></div><div class="topline"></div></body></html>
